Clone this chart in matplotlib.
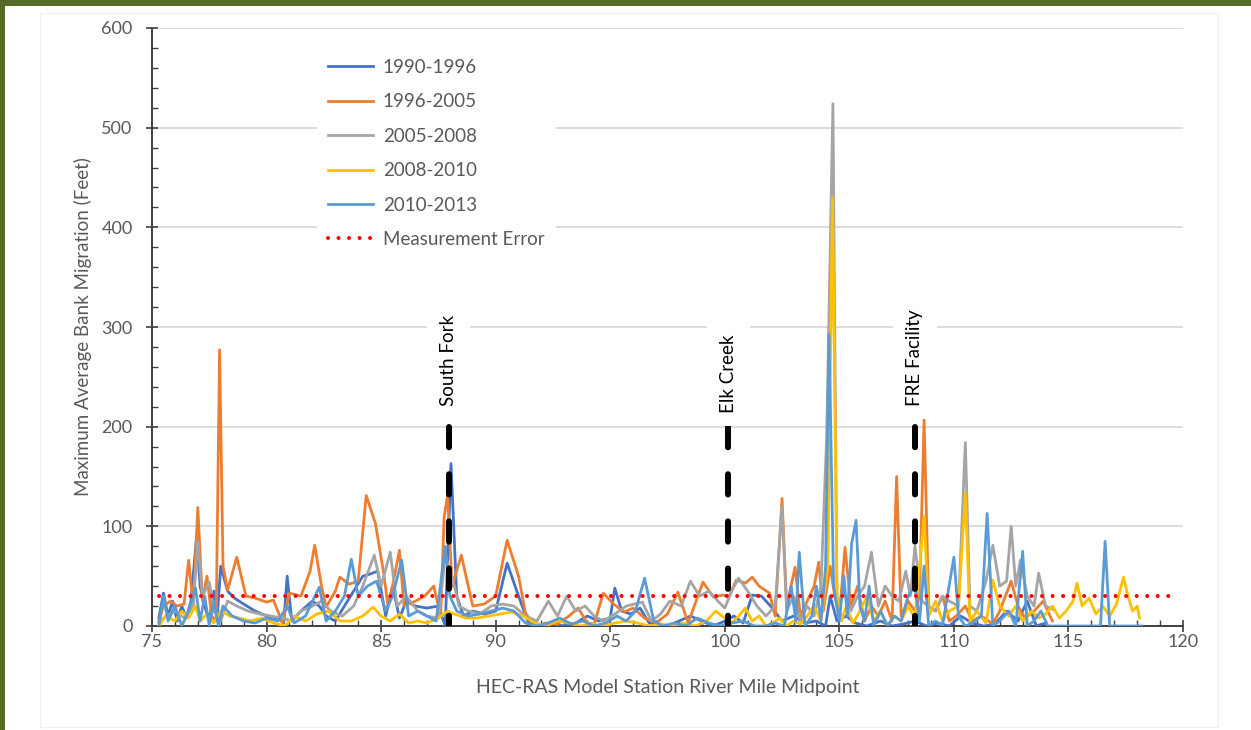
import matplotlib.pyplot as plt
from matplotlib.lines import Line2D
from matplotlib.patches import Rectangle

plt.rcParams['font.family'] = ['Lato', 'DejaVu Sans']

# Period labels and Excel-like colours
periods = ["1990-1996", "1996-2005", "2005-2008", "2008-2010", "2010-2013"]
colors = ["#4472C4", "#ED7D31", "#A5A5A5", "#FFC000", "#5B9BD5"]

# 1990-1996
miles_a = [75.3, 75.5, 75.7, 75.9, 76.1, 76.3, 76.5, 76.7, 76.95, 77.1, 77.3, 77.5, 77.7, 77.85,
           78.0, 78.3, 78.6, 79.0, 79.5, 80.0, 80.5, 80.75, 80.9, 81.1, 81.5, 82.0, 82.3, 82.6,
           83.0, 83.4, 83.8, 84.2, 84.5, 84.85, 85.2, 85.5, 85.8, 86.1, 86.5, 87.0, 87.5, 87.8,
           88.05, 88.3, 88.6, 89.0, 89.5, 90.0, 90.5, 91.0, 91.4, 92.0, 92.5, 93.0, 93.5, 94.0,
           94.5, 95.0, 95.2, 95.5, 95.9, 96.3, 96.7, 97.0, 97.5, 98.0, 98.5, 99.0, 99.5, 100.0,
           100.4, 100.8, 101.2, 101.6, 102.0, 102.5, 103.0, 103.5, 104.0, 104.4, 104.6, 104.9,
           105.3, 105.7, 106.2, 106.8, 107.3, 107.8, 108.3, 108.8, 109.3, 109.8, 110.3, 110.8,
           111.3, 111.8, 112.3, 112.8, 113.2, 113.6, 114.0]
migr_a = [8, 33, 10, 25, 5, 20, 8, 25, 90, 40, 20, 5, 35, 10,
          60, 35, 28, 22, 15, 10, 8, 3, 50, 5, 15, 25, 20, 10,
          5, 20, 35, 50, 52, 55, 10, 40, 8, 25, 20, 18, 20, 0,
          163, 30, 10, 15, 12, 15, 63, 30, 5, 0, 2, 0, 3, 10,
          5, 8, 38, 15, 12, 18, 3, 2, 0, 5, 10, 5, 0, 5,
          10, 3, 31, 30, 20, 5, 10, 3, 5, 0, 30, 5,
          10, 3, 0, 5, 0, 2, 5, 0, 3, 0, 10, 3,
          0, 2, 15, 5, 25, 0, 3]

# 1996-2005
miles_b = [75.3, 75.5, 75.8, 76.1, 76.4, 76.6, 76.8, 77.0, 77.2, 77.4, 77.6, 77.8, 77.95, 78.1,
           78.3, 78.7, 79.1, 79.5, 80.0, 80.3, 80.7, 81.0, 81.5, 81.9, 82.1, 82.4, 82.6, 83.0,
           83.2, 83.6, 84.0, 84.35, 84.75, 85.1, 85.3, 85.5, 85.8, 86.0, 86.5, 86.9, 87.3, 87.6,
           87.75, 87.9, 88.1, 88.5, 89.0, 89.5, 90.0, 90.5, 91.0, 91.3, 91.7, 92.2, 92.7, 93.2,
           93.6, 94.0, 94.3, 94.7, 95.1, 95.6, 96.0, 96.5, 97.0, 97.5, 97.95, 98.4, 99.05, 99.5,
           99.9, 100.2, 100.5, 100.9, 101.2, 101.5, 101.95, 102.2, 102.5, 102.7, 103.07, 103.3,
           103.6, 103.9, 104.1, 104.3, 104.6, 104.8, 105.0, 105.25, 105.5, 105.8, 106.1, 106.4,
           106.7, 107.0, 107.3, 107.5, 107.7, 108.0, 108.3, 108.5, 108.7, 108.9, 109.2, 109.5,
           109.8, 110.1, 110.5, 110.8, 111.2, 111.7, 112.0, 112.5, 112.8, 113.1, 113.5, 113.9,
           114.3]
migr_b = [5, 20, 25, 20, 22, 66, 20, 119, 25, 50, 10, 5, 277, 60,
          36, 69, 30, 28, 24, 26, 3, 33, 30, 55, 81, 40, 19, 35,
          49, 42, 45, 131, 103, 55, 20, 40, 76, 20, 25, 30, 40, 10,
          109, 131, 40, 71, 20, 22, 30, 86, 50, 13, 0, 3, 2, 10,
          18, 3, 2, 33, 23, 14, 18, 8, 3, 12, 34, 3, 44, 29,
          31, 30, 46, 43, 49, 40, 33, 10, 128, 20, 59, 10,
          25, 40, 64, 15, 60, 30, 10, 79, 20, 40, 5, 20,
          10, 25, 5, 150, 10, 25, 15, 30, 207, 20, 15, 30,
          5, 10, 20, 5, 10, 2, 15, 45, 20, 8, 15, 25,
          5]

# 2005-2008
miles_c = [75.3, 75.6, 76.0, 76.4, 76.8, 77.0, 77.2, 77.5, 77.7, 78.0, 78.3, 78.7, 79.2, 79.7,
           80.2, 80.7, 81.1, 81.5, 82.0, 82.4, 82.8, 83.3, 83.8, 84.2, 84.7, 85.0, 85.4, 85.7,
           86.1, 86.6, 87.0, 87.5, 87.8, 88.1, 88.4, 88.8, 89.3, 89.8, 90.3, 90.8, 91.3, 91.8,
           92.3, 92.7, 93.1, 93.5, 93.9, 94.3, 94.7, 95.2, 95.7, 96.4, 96.8, 97.2, 97.6, 98.1,
           98.5, 98.9, 99.3, 99.7, 100.0, 100.3, 100.6, 101.0, 101.4, 101.8, 102.2, 102.5, 102.7,
           103.0, 103.3, 103.6, 103.9, 104.2, 104.45, 104.72, 104.9, 105.2, 105.5, 105.8, 106.1,
           106.4, 106.7, 107.0, 107.3, 107.6, 107.9, 108.1, 108.3, 108.6, 108.9, 109.2, 109.5,
           109.8, 110.2, 110.5, 110.7, 111.0, 111.4, 111.7, 112.0, 112.3, 112.5, 112.7, 112.9,
           113.2, 113.5, 113.7, 114.0, 114.4]
migr_c = [3, 10, 15, 8, 20, 85, 30, 44, 15, 5, 25, 20, 15, 12,
          10, 8, 5, 15, 20, 25, 15, 10, 20, 40, 71, 40, 74, 20,
          30, 15, 10, 8, 70, 50, 20, 15, 12, 20, 22, 20, 10, 5,
          25, 10, 30, 15, 20, 10, 5, 12, 20, 24, 5, 12, 25, 20,
          45, 30, 35, 25, 18, 35, 48, 35, 20, 10, 20, 120, 15,
          30, 5, 20, 10, 40, 193, 524, 20, 35, 15, 30, 40,
          74, 20, 40, 30, 25, 55, 30, 80, 25, 20, 15, 30,
          25, 20, 184, 20, 15, 45, 81, 40, 45, 100, 40, 66,
          30, 20, 53, 20, 16]

# 2008-2010
miles_d = [75.3, 75.6, 76.0, 76.3, 76.6, 76.9, 77.1, 77.4, 77.7, 78.0, 78.4, 78.8, 79.3, 79.8,
           80.3, 80.8, 81.2, 81.7, 82.2, 82.7, 83.2, 83.7, 84.2, 84.65, 85.0, 85.4, 85.8, 86.2,
           86.6, 87.0, 87.5, 87.9, 88.2, 88.7, 89.2, 89.7, 90.2, 90.7, 91.2, 91.7, 92.2, 92.7,
           93.2, 93.7, 94.2, 94.7, 95.2, 95.7, 96.2, 96.7, 97.2, 97.7, 98.2, 98.7, 99.2, 99.6,
           100.0, 100.3, 100.6, 100.9, 101.2, 101.5, 101.8, 102.1, 102.4, 102.7, 103.0, 103.3,
           103.6, 103.9, 104.2, 104.5, 104.7, 104.9, 105.1, 105.3, 105.6, 105.9, 106.2, 106.5,
           106.8, 107.1, 107.4, 107.7, 108.0, 108.3, 108.7, 108.9, 109.2, 109.5, 109.8, 110.2,
           110.5, 110.7, 111.0, 111.4, 111.7, 112.0, 112.4, 112.7, 113.0, 113.4, 113.7, 114.0,
           114.3, 114.6, 114.9, 115.2, 115.37, 115.6, 115.9, 116.2, 116.5, 116.8, 117.1, 117.4,
           117.6, 117.8, 118.0, 118.1]
migr_d = [0, 10, 5, 15, 8, 20, 5, 12, 3, 15, 10, 8, 5, 8,
          3, 0, 10, 5, 12, 15, 5, 5, 10, 19, 10, 5, 12, 3,
          5, 3, 8, 15, 12, 8, 8, 10, 12, 14, 10, 3, 0, 5,
          3, 0, 2, 0, 3, 5, 3, 0, 2, 0, 3, 0, 5, 15,
          8, 3, 10, 18, 5, 10, 0, 3, 8, 0, 5, 2,
          10, 20, 5, 60, 430, 30, 5, 20, 3, 15, 30, 5,
          15, 0, 10, 5, 20, 8, 110, 10, 25, 5, 15, 20,
          133, 5, 15, 3, 46, 20, 10, 20, 5, 15, 8, 12,
          20, 8, 15, 25, 43, 20, 28, 12, 20, 10, 22, 49,
          30, 15, 20, 8]

# 2010-2013
miles_e = [75.3, 75.5, 75.7, 76.0, 76.3, 76.6, 76.9, 77.1, 77.3, 77.5, 77.7, 77.9, 78.1, 78.5,
           79.0, 79.5, 80.0, 80.5, 80.9, 81.2, 81.7, 82.3, 82.6, 83.0, 83.4, 83.7, 84.0, 84.4,
           84.8, 85.2, 85.5, 85.9, 86.2, 86.6, 87.0, 87.4, 87.8, 88.0, 88.3, 88.8, 89.3, 89.8,
           90.3, 90.8, 91.3, 91.8, 92.3, 92.8, 93.3, 93.8, 94.3, 94.8, 95.3, 95.7, 96.1, 96.5,
           96.9, 97.3, 97.8, 98.3, 98.8, 99.3, 99.8, 100.3, 100.8, 101.3, 101.8, 102.2, 102.6,
           102.9, 103.1, 103.25, 103.5, 103.8, 104.0, 104.2, 104.4, 104.55, 104.75, 105.0, 105.2,
           105.35, 105.54, 105.73, 105.9, 106.1, 106.3, 106.5, 106.8, 107.1, 107.4, 107.7, 108.0,
           108.3, 108.5, 108.7, 108.9, 109.2, 109.5, 110.0, 110.2, 110.5, 110.8, 111.2, 111.45,
           111.7, 112.0, 112.4, 112.7, 113.0, 113.2, 113.5, 113.8, 114.1, 114.5, 116.4, 116.6,
           116.8, 118.2]
migr_e = [0, 30, 5, 20, 0, 15, 38, 5, 30, 0, 25, 0, 20, 10,
          5, 3, 8, 5, 20, 3, 10, 39, 5, 15, 30, 67, 30, 40,
          45, 15, 30, 66, 10, 15, 10, 5, 80, 30, 15, 10, 12, 15,
          18, 15, 3, 0, 3, 8, 2, 5, 0, 3, 10, 5, 15, 48,
          5, 0, 3, 0, 8, 3, 0, 3, 5, 0, 0, 3, 0,
          40, 5, 74, 0, 10, 40, 5, 60, 293, 40, 5, 50,
          10, 83, 106, 20, 5, 40, 0, 15, 0, 10, 5, 30,
          40, 5, 60, 0, 5, 0, 69, 10, 0, 3, 10, 113,
          0, 5, 15, 0, 75, 0, 5, 15, 0, 0, 0, 85,
          0, 0]

error_level = 30
error_miles = [75.3, 119.8]

landmarks = ["South Fork", "Elk Creek", "FRE Facility"]
landmark_miles = [87.95, 100.15, 108.3]
landmark_height = 200
label_base = [221, 214, 221]

all_miles = [miles_a, miles_b, miles_c, miles_d, miles_e]
all_migr = [migr_a, migr_b, migr_c, migr_d, migr_e]

text_gray = "#595959"
axis_gray = "#404040"

fig = plt.figure(figsize=(12.51, 7.30), dpi=100)
ax = fig.add_axes([152 / 1251, 104 / 730, 1031 / 1251, 598 / 730])

for xs, ys, lab, col in zip(all_miles, all_migr, periods, colors):
    ax.plot(xs, ys, color=col, lw=2.0, label=lab, zorder=3)

ax.plot(error_miles, [error_level, error_level], color="#FF0000", lw=2.9,
        linestyle=(0, (0.01, 2.6)), dash_capstyle="round", zorder=4,
        label="Measurement Error")

for name, mile, base in zip(landmarks, landmark_miles, label_base):
    ax.plot([mile, mile], [landmark_height, 0], color="black", lw=4.3,
            linestyle=(0, (3.4, 4.5)), dash_capstyle="round", zorder=6)
    ax.text(mile, base, name, rotation=90, ha="center", va="bottom", fontsize=13.5,
            color="black", zorder=7,
            bbox=dict(boxstyle="square,pad=0.7", fc="white", ec="none"))

ax.set_xlim(75, 120)
ax.set_ylim(0, 600)
ax.set_xticks(range(75, 121, 5))
ax.set_xticks(range(75, 121), minor=True)
ax.set_yticks(range(0, 601, 100))
ax.set_yticks(range(0, 601, 20), minor=True)

ax.yaxis.grid(True, which="major", color="#D9D9D9", lw=1.3)
ax.set_axisbelow(True)
for side in ["top", "right"]:
    ax.spines[side].set_visible(False)
for side in ["left", "bottom"]:
    ax.spines[side].set_color(axis_gray)
    ax.spines[side].set_linewidth(1.4)

ax.tick_params(which="major", direction="inout", length=8, width=1.2, color=axis_gray,
               labelcolor=text_gray, labelsize=13)
ax.tick_params(which="minor", direction="in", length=4, width=1.0, color=axis_gray)
ax.tick_params(axis="y", which="major", pad=10)
ax.tick_params(axis="x", which="major", pad=2)

ax.set_xlabel("HEC-RAS Model Station River Mile Midpoint", fontsize=14, color=text_gray,
              labelpad=21)
ax.set_ylabel("Maximum Average Bank Migration (Feet)", fontsize=13.5, color=text_gray,
              labelpad=7)

handles, labels = ax.get_legend_handles_labels()
leg = ax.legend(handles, labels, loc="upper left", bbox_to_anchor=(0.151, 0.983),
                frameon=True, facecolor="white", edgecolor="none", framealpha=1,
                fontsize=13.5, handlelength=2.4, handletextpad=0.5, labelspacing=0.93,
                borderpad=0.6)
for t in leg.get_texts():
    t.set_color(text_gray)
leg.set_zorder(8)

# frame of the original figure
fig.patches.append(Rectangle((40 / 1251, 3 / 730), 1178 / 1251, 714 / 730,
                             transform=fig.transFigure, fill=False, ec="#F0F0F0", lw=1))
fig.patches.append(Rectangle((0, 1 - 6 / 730), 1, 6 / 730, transform=fig.transFigure,
                             color="#566A2C", lw=0))
fig.patches.append(Rectangle((0, 0), 5 / 1251, 1, transform=fig.transFigure,
                             color="#566A2C", lw=0))

fig.savefig("out.png", dpi=100)
